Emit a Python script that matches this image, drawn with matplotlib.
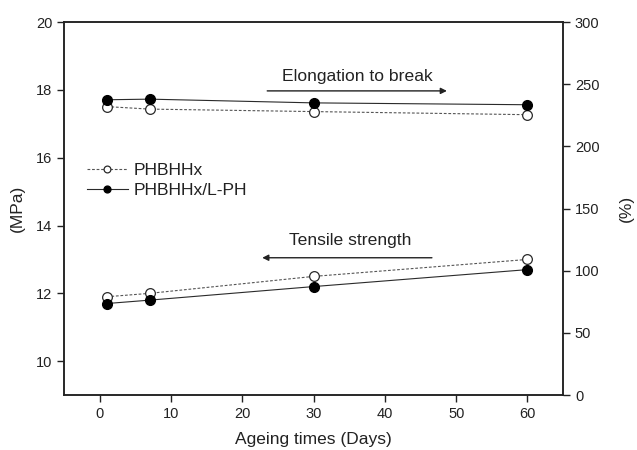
import numpy as np
import matplotlib
matplotlib.use('Agg')
import matplotlib.pyplot as plt

plt.rcParams['font.family'] = ['Liberation Sans', 'DejaVu Sans']

# ageing times (days)
days = [1, 7, 30, 60]

# tensile strength (MPa) - left axis
ts_phbhhx = [11.9, 12.0, 12.5, 13.0]
ts_lph = [11.7, 11.8, 12.2, 12.7]

# elongation to break (%) - right axis
eb_phbhhx = [232, 230, 228, 225.5]
eb_lph = [237.5, 238, 235, 233.5]

xticks = [0, 10, 20, 30, 40, 50, 60]
lticks = [10, 12, 14, 16, 18, 20]
rticks = [0, 50, 100, 150, 200, 250, 300]

col = '#2a2a2a'
dcol = '#555555'
dash = (0, (2.5, 1.6))

fig = plt.figure(figsize=(6.37, 4.5), dpi=100)
ax = fig.add_axes([0.1005, 0.122, 0.7835, 0.829])
ax2 = ax.twinx()

ax.plot(days, ts_phbhhx, color=dcol, ls=dash, lw=0.8, marker='o',
        mfc='white', mec=col, ms=7, mew=0.9, label='PHBHHx')
ax.plot(days, ts_lph, color=col, ls='-', lw=0.8, marker='o',
        mfc='black', mec='black', ms=7, label='PHBHHx/L-PH')
ax2.plot(days, eb_phbhhx, color=dcol, ls=dash, lw=0.8, marker='o',
         mfc='white', mec=col, ms=7, mew=0.9)
ax2.plot(days, eb_lph, color=col, ls='-', lw=0.8, marker='o',
         mfc='black', mec='black', ms=7)

ax.set_xlim(-5, 65)
ax.set_ylim(9, 20)
ax2.set_ylim(0, 300)
ax.set_xticks(xticks)
ax.set_yticks(lticks)
ax2.set_yticks(rticks)

for a in (ax, ax2):
    a.tick_params(direction='out', length=5, width=1, labelsize=10.5, colors='#222222')
    for s in a.spines.values():
        s.set_linewidth(1.1)
        s.set_color('#222222')

ax.set_xlabel('Ageing times (Days)', fontsize=12.5, color='#222222', labelpad=8)
ax.set_ylabel('(MPa)', fontsize=12.5, color='#222222', labelpad=8)
ax2.set_ylabel('(%)', fontsize=12.5, color='#222222', labelpad=14)

# annotations with arrows
ax.annotate('', xy=(48.7, 17.97), xytext=(23.5, 17.97),
            arrowprops=dict(arrowstyle='-|>', color='#222222', lw=1.0,
                            mutation_scale=9, shrinkA=0, shrinkB=0))
ax.text(36.1, 18.38, 'Elongation to break', fontsize=12.6, ha='center',
        va='center', color='#222222')
ax.annotate('', xy=(22.8, 13.05), xytext=(46.6, 13.05),
            arrowprops=dict(arrowstyle='-|>', color='#222222', lw=1.0,
                            mutation_scale=9, shrinkA=0, shrinkB=0))
ax.text(35.2, 13.56, 'Tensile strength', fontsize=12.6, ha='center',
        va='center', color='#222222')

leg = ax.legend(loc='upper left', bbox_to_anchor=(0.015, 0.665), frameon=False,
                fontsize=12.6, handlelength=2.3, handletextpad=0.35,
                labelspacing=0.25, markerscale=0.7)
for t in leg.get_texts():
    t.set_color('#222222')

fig.savefig('out.png', dpi=100)
